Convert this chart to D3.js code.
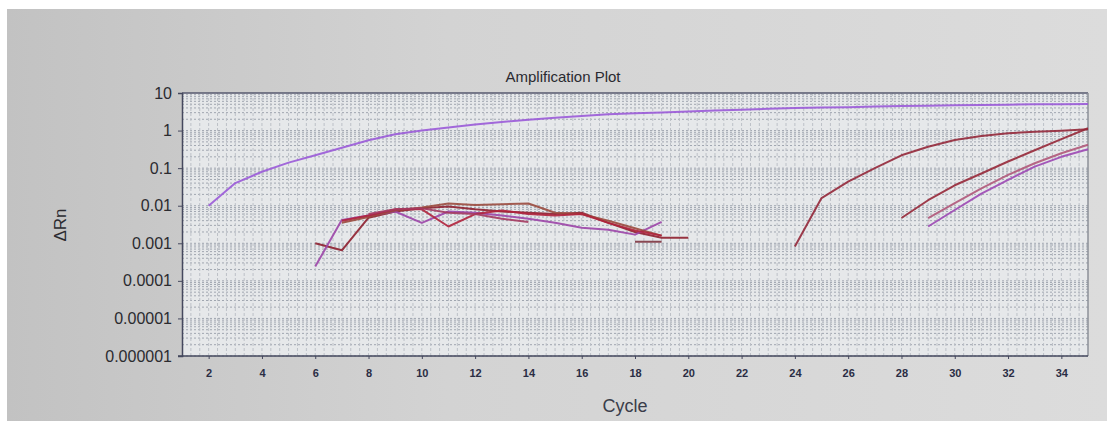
<html>
<head>
<title>Amplification Plot</title>
<script src="https://d3js.org/d3.v7.min.js"></script>
<style>
body { margin: 0; background: #fff; font-family: 'Liberation Sans', Arial, sans-serif; }
svg { display: block; }
.ylab text { font-size: 16px; fill: #2b2b30; }
.xlab text { font-size: 11px; fill: #2a2d44; font-weight: bold; }
</style>
</head>
<body>
<div id="plot"></div>

<script>

var width = 1107;
var height = 421;

// plot area
var plotLeft = 182, plotRight = 1088, plotTop = 93, plotBottom = 356;

var xTicks = [2, 4, 6, 8, 10, 12, 14, 16, 18, 20, 22, 24, 26, 28, 30, 32, 34];
var yTicks = [10, 1, 0.1, 0.01, 0.001, 0.0001, 0.00001, 0.000001];
var yTickLabels = ["10", "1", "0.1", "0.01", "0.001", "0.0001", "0.00001", "0.000001"];

// the strong sample (purple)
var purpleCycles = [2, 3, 4, 5, 6, 7, 8, 9, 10, 11, 12, 13, 14, 15, 16, 17, 18, 19, 20, 21, 22, 23, 24, 25, 26, 27, 28, 29, 30, 31, 32, 33, 34, 35];
var purpleValues = [0.01, 0.04, 0.08, 0.14, 0.22, 0.35, 0.55, 0.8, 1.0, 1.2, 1.45, 1.7, 1.95, 2.2, 2.45, 2.7, 2.9, 3.05, 3.2, 3.4, 3.6, 3.8, 4.0, 4.1, 4.2, 4.35, 4.5, 4.6, 4.7, 4.8, 4.9, 5.0, 5.05, 5.1];

// noisy baseline traces
var base1Cycles = [6, 7, 8, 9, 10, 11, 12, 13, 14, 15, 16, 17, 18, 19, 20];
var base1Values = [0.001, 0.00065, 0.0048, 0.007, 0.0085, 0.0095, 0.008, 0.007, 0.0065, 0.006, 0.0065, 0.0035, 0.002, 0.0014, 0.0014];
var base2Cycles = [6, 7, 8, 9, 10, 11, 12, 13, 14, 15, 16, 17, 18, 19];
var base2Values = [0.00024, 0.0042, 0.0055, 0.007, 0.0035, 0.007, 0.0065, 0.0055, 0.0045, 0.0035, 0.0026, 0.0023, 0.0017, 0.0037];
var base3Cycles = [7, 8, 9, 10, 11, 12, 13, 14, 15, 16, 17, 18, 19];
var base3Values = [0.0035, 0.005, 0.0075, 0.009, 0.0115, 0.0105, 0.011, 0.0115, 0.0065, 0.006, 0.004, 0.0025, 0.0016];
var base4Cycles = [7, 8, 9, 10, 11, 12, 13, 14, 15, 16, 17, 18, 19];
var base4Values = [0.004, 0.0055, 0.008, 0.008, 0.0028, 0.006, 0.0075, 0.006, 0.0055, 0.006, 0.0035, 0.0022, 0.0016];
var base5Cycles = [8, 9, 10, 11, 12, 13, 14];
var base5Values = [0.006, 0.008, 0.0085, 0.0065, 0.006, 0.0045, 0.0037];
var base6Cycles = [18, 19];
var base6Values = [0.0011, 0.0011];

// late amplifying samples
var late1Cycles = [24, 25, 26, 27, 28, 29, 30, 31, 32, 33, 34, 35];
var late1Values = [0.00082, 0.016, 0.044, 0.1, 0.22, 0.37, 0.56, 0.72, 0.85, 0.93, 0.99, 1.08];
var late2Cycles = [28, 29, 30, 31, 32, 33, 34, 35];
var late2Values = [0.0047, 0.014, 0.035, 0.072, 0.15, 0.3, 0.59, 1.15];
var late3Cycles = [29, 30, 31, 32, 33, 34, 35];
var late3Values = [0.0047, 0.0117, 0.029, 0.066, 0.135, 0.25, 0.42];
var late4Cycles = [29, 30, 31, 32, 33, 34, 35];
var late4Values = [0.0028, 0.0077, 0.021, 0.049, 0.11, 0.2, 0.32];

var series = [
  { cycles: base1Cycles, values: base1Values, color: "#8e1f2f" },
  { cycles: base2Cycles, values: base2Values, color: "#9c45a8" },
  { cycles: base3Cycles, values: base3Values, color: "#9a4a3e" },
  { cycles: base4Cycles, values: base4Values, color: "#b0223c" },
  { cycles: base5Cycles, values: base5Values, color: "#a43a60" },
  { cycles: base6Cycles, values: base6Values, color: "#7d3440" },
  { cycles: late1Cycles, values: late1Values, color: "#93283a" },
  { cycles: late2Cycles, values: late2Values, color: "#962838" },
  { cycles: late3Cycles, values: late3Values, color: "#b0587a" },
  { cycles: late4Cycles, values: late4Values, color: "#9c48b4" },
  { cycles: purpleCycles, values: purpleValues, color: "#9a5ad8" }
];

var svg = d3.select("#plot").append("svg")
.attr("width", width).attr("height", height);

var defs = svg.append("defs");
var grad = defs.append("linearGradient").attr("id", "bg")
.attr("x1", "0").attr("x2", "1").attr("y1", "0").attr("y2", "0");
grad.append("stop").attr("offset", "0").attr("stop-color", "#c2c2c2");
grad.append("stop").attr("offset", "0.4").attr("stop-color", "#d3d3d3");
grad.append("stop").attr("offset", "1").attr("stop-color", "#dcdcdc");

svg.append("rect").attr("x", 7).attr("y", 9).attr("width", width - 7).attr("height", height - 9)
.style("fill", "url(#bg)");

var xScale = d3.scaleLinear().domain([1, 35]).range([plotLeft, plotRight]);
var yScale = d3.scaleLog().domain([0.000001, 10]).range([plotBottom, plotTop]);

svg.append("rect")
.attr("x", plotLeft).attr("y", plotTop)
.attr("width", plotRight - plotLeft).attr("height", plotBottom - plotTop)
.style("fill", "#e6e8ea");

// grid: horizontal at each log minor step, vertical every third of a cycle
var minor = [];
for (var e = -6; e < 1; e++) {
  for (var k = 1; k < 10; k++) { minor.push(k * Math.pow(10, e)); }
}
var grid = svg.append("g");
grid.selectAll("line.h").data(minor).enter().append("line")
.attr("x1", plotLeft).attr("x2", plotRight)
.attr("y1", function (d) { return yScale(d); })
.attr("y2", function (d) { return yScale(d); })
.style("stroke", "#a0a6b0").style("stroke-width", 1)
.style("stroke-dasharray", "2,2");
grid.selectAll("line.v").data(d3.range(1, 102).map(function (i) { return 1 + i / 3; })).enter().append("line")
.attr("y1", plotTop).attr("y2", plotBottom)
.attr("x1", function (d) { return xScale(d); })
.attr("x2", function (d) { return xScale(d); })
.style("stroke", "#bcc0c7").style("stroke-width", 1)
.style("stroke-dasharray", "3,2");

// frame
svg.append("line").attr("x1", plotLeft).attr("x2", plotRight).attr("y1", plotTop).attr("y2", plotTop)
.style("stroke", "#56596e").style("stroke-width", 1.5);
svg.append("line").attr("x1", plotRight).attr("x2", plotRight).attr("y1", plotTop).attr("y2", plotBottom)
.style("stroke", "#8c9098").style("stroke-width", 1.5);

var yAxis = d3.axisLeft(yScale).tickValues(yTicks)
.tickFormat(function (d, i) { return yTickLabels[i]; })
.tickSize(4).tickPadding(6);
var gy = svg.append("g").attr("class", "ylab")
.attr("transform", "translate(" + plotLeft + ",0)").call(yAxis);
gy.select(".domain").style("stroke", "#45485e").style("stroke-width", 1.5);
gy.selectAll(".tick line").style("stroke", "#45485e");

var xAxis = d3.axisBottom(xScale).tickValues(xTicks).tickSize(3).tickPadding(10);
var gx = svg.append("g").attr("class", "xlab")
.attr("transform", "translate(0," + plotBottom + ")").call(xAxis);
gx.select(".domain").attr("d", "M" + (plotLeft - 4) + ",0H" + plotRight)
.style("stroke", "#45485e").style("stroke-width", 1.5);
gx.selectAll(".tick line").style("stroke", "#45485e");

// curves
var line = d3.line()
.x(function (d) { return xScale(d[0]); })
.y(function (d) { return yScale(d[1]); });

svg.append("g").selectAll("path").data(series).enter().append("path")
.attr("d", function (s) { return line(d3.zip(s.cycles, s.values)); })
.style("fill", "none")
.style("stroke", function (s) { return s.color; })
.style("stroke-width", 2)
.style("stroke-linejoin", "round")
.style("opacity", 0.9);

// labels
svg.append("text").attr("x", 563).attr("y", 82)
.attr("text-anchor", "middle")
.style("font-size", "15px").style("fill", "#2a2a30")
.text("Amplification Plot");

svg.append("text").attr("x", 625).attr("y", 412)
.attr("text-anchor", "middle")
.style("font-size", "18px").style("fill", "#3a3d4a")
.text("Cycle");

svg.append("text").attr("transform", "rotate(270)")
.attr("x", -225).attr("y", 66)
.attr("text-anchor", "middle")
.style("font-size", "17px").style("fill", "#2b2b30")
.text("ΔRn");

</script>
</body>
</html>
